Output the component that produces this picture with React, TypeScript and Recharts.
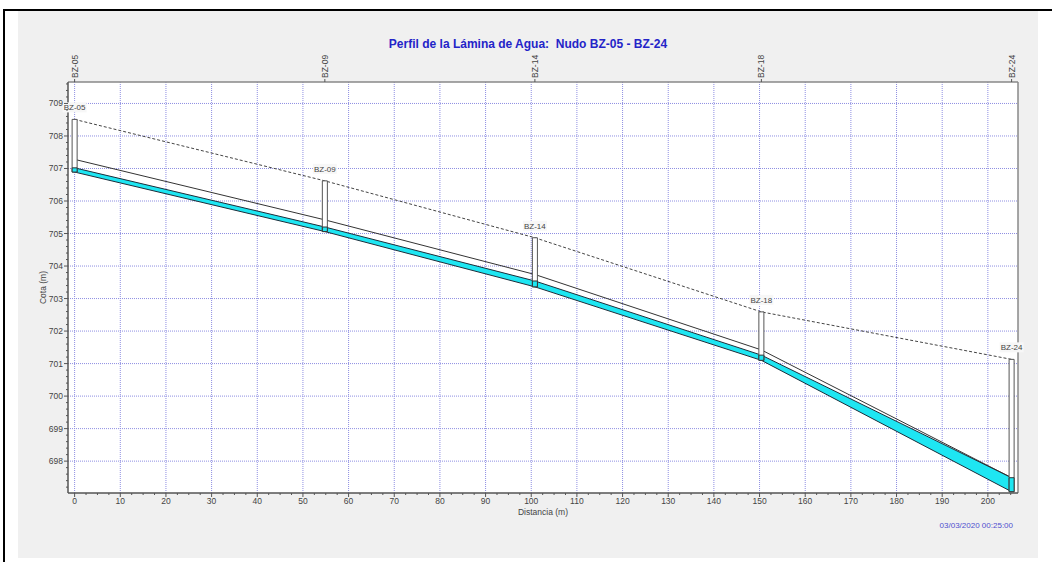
import React from "react";
import {
  ComposedChart,
  Area,
  Line,
  Scatter,
  XAxis,
  YAxis,
  ReferenceLine,
  ReferenceArea,
  Label,
} from "recharts";

// nodos del perfil (distancia acumulada y cotas)
const nodeNames = ["BZ-05", "BZ-09", "BZ-14", "BZ-18", "BZ-24"];
const nodeDist = [0, 54.8, 100.8, 150.4, 205.2];
const groundElev = [708.51, 706.62, 704.87, 702.59, 701.13];
const crownElev = [707.28, 705.42, 703.74, 701.42, 697.49];
const waterElev = [707.02, 705.2, 703.54, 701.26, 697.49];
const invertElev = [706.89, 705.06, 703.36, 701.1, 697.06];

const xMajorTicks = [0, 10, 20, 30, 40, 50, 60, 70, 80, 90, 100, 110, 120, 130, 140, 150, 160, 170, 180, 190, 200];
const yMajorTicks = [698, 699, 700, 701, 702, 703, 704, 705, 706, 707, 708, 709];
const xMinorTicks = Array.from({ length: 83 }, (_, i) => i * 2.5);
const yMinorTicks = Array.from({ length: 63 }, (_, i) => Math.round((697.2 + i * 0.2) * 10) / 10);

const X_DOMAIN: [number, number] = [-1.45, 206.6];
const Y_DOMAIN: [number, number] = [697.02, 709.66];
const MANHOLE_HALF = 0.55;

const FONT = "'Liberation Sans', Arial, sans-serif";
const CYAN = "#1ee6f2";
const GRID = "#8e8ee2";

const profile = nodeDist.map((d, i) => ({
  name: nodeNames[i],
  dist: d,
  ground: groundElev[i],
  crown: crownElev[i],
  water: waterElev[i],
  invert: invertElev[i],
}));

const BottomTick = (props: any) => {
  const { x, y, payload } = props;
  const major = xMajorTicks.includes(payload.value);
  return (
    <g>
      <line x1={x} y1={y} x2={x} y2={y + (major ? 4 : 2)} stroke="#555" />
      {major && (
        <text x={x} y={y + 10.5} textAnchor="middle" fontSize={8.5} fontFamily={FONT} fill="#444">
          {payload.value}
        </text>
      )}
    </g>
  );
};

const LeftTick = (props: any) => {
  const { x, y, payload } = props;
  const major = Number.isInteger(payload.value);
  return (
    <g>
      <line x1={x} y1={y} x2={x - (major ? 4 : 2)} y2={y} stroke="#555" />
      {major && (
        <text x={x - 5} y={y + 3} textAnchor="end" fontSize={8.5} fontFamily={FONT} fill="#444">
          {payload.value}
        </text>
      )}
    </g>
  );
};

const TopTick = (props: any) => {
  const { x, y, payload } = props;
  const idx = nodeDist.indexOf(payload.value);
  return (
    <g>
      <line x1={x} y1={y} x2={x} y2={y - 3} stroke="#555" />
      <text
        transform={`translate(${x + 3},${y - 4}) rotate(-90)`}
        textAnchor="start"
        fontSize={8.5}
        fontFamily={FONT}
        fill="#444"
      >
        {nodeNames[idx]}
      </text>
    </g>
  );
};

const NodeLabel = (props: any) => {
  const { cx, cy, payload } = props;
  return (
    <g>
      <rect x={cx - 12} y={cy - 17} width={24} height={10} fill="#f7f7f7" />
      <text x={cx} y={cy - 9} textAnchor="middle" fontSize={8} fontFamily={FONT} fill="#444">
        {payload.name}
      </text>
    </g>
  );
};

export default function App() {
  return (
    <div style={{ position: "absolute", left: 0, top: 0, width: 1052, height: 562, background: "#fff", overflow: "hidden" }}>
      <div style={{ position: "absolute", left: 3, top: 9, width: 1049, height: 1.5, background: "#000" }} />
      <div style={{ position: "absolute", left: 3, top: 9, width: 2, height: 553, background: "#000" }} />
      <div style={{ position: "absolute", left: 18, top: 10.5, width: 1020, height: 547, background: "#f0f0f0" }}>
        <ComposedChart
          width={1020}
          height={547}
          data={profile}
          margin={{ top: 41, right: 20, bottom: 35, left: 0 }}
        >
          <XAxis
            dataKey="dist"
            type="number"
            domain={X_DOMAIN}
            ticks={xMinorTicks}
            interval={0}
            tickSize={0}
            tickMargin={0}
            tickLine={false}
            tick={<BottomTick />}
            axisLine={{ stroke: "#555", strokeWidth: 1.5 }}
            height={30}
          >
            <Label value="Distancia (m)" position="insideBottom" offset={8.5} fontSize={8.5} fontFamily={FONT} fill="#444" />
          </XAxis>
          <XAxis
            xAxisId="top"
            orientation="top"
            dataKey="dist"
            type="number"
            domain={X_DOMAIN}
            ticks={nodeDist}
            interval={0}
            tickSize={0}
            tickMargin={0}
            tickLine={false}
            tick={<TopTick />}
            axisLine={{ stroke: "#888", strokeWidth: 1.5 }}
            height={30}
          />
          <YAxis
            type="number"
            domain={Y_DOMAIN}
            ticks={yMinorTicks}
            interval={0}
            tickSize={0}
            tickMargin={0}
            tickLine={false}
            tick={<LeftTick />}
            axisLine={{ stroke: "#555", strokeWidth: 1.5 }}
            width={50}
          >
            <Label
              value="Cota (m)"
              angle={-90}
              position="insideLeft"
              offset={25}
              fontSize={8.5}
              fontFamily={FONT}
              fill="#444"
              style={{ textAnchor: "middle" }}
            />
          </YAxis>

          {/* fondo blanco del area de trazado */}
          <ReferenceArea x1={X_DOMAIN[0]} x2={X_DOMAIN[1]} y1={Y_DOMAIN[0]} y2={Y_DOMAIN[1]} fill="#fff" fillOpacity={1} stroke="none" zIndex={-100} />

          {xMajorTicks.map((v) => (
            <ReferenceLine key={`gx-${v}`} x={v} stroke={GRID} strokeDasharray="1 1" zIndex={-50} />
          ))}
          {yMajorTicks.map((v) => (
            <ReferenceLine key={`gy-${v}`} y={v} stroke={GRID} strokeDasharray="1 1" zIndex={-50} />
          ))}
          <ReferenceLine x={X_DOMAIN[1]} stroke="#888" strokeWidth={1.5} ifOverflow="visible" />

          <Area
            type="linear"
            dataKey={(d: any) => [d.invert, d.water]}
            fill={CYAN}
            fillOpacity={1}
            stroke="#1d2d3a"
            strokeWidth={1}
            isAnimationActive={false}
            dot={false}
            activeDot={false}
          />
          <Line type="linear" dataKey="crown" stroke="#333" strokeWidth={1} dot={false} activeDot={false} isAnimationActive={false} />
          <Line
            type="linear"
            dataKey="ground"
            stroke="#444"
            strokeWidth={1}
            strokeDasharray="3 2"
            dot={false}
            activeDot={false}
            isAnimationActive={false}
          />

          {profile.map((n) => (
            <ReferenceArea
              key={`mh-${n.name}`}
              x1={n.dist - MANHOLE_HALF}
              x2={n.dist + MANHOLE_HALF}
              y1={n.invert}
              y2={n.ground}
              fill="#fff"
              fillOpacity={1}
              stroke="#555"
              strokeWidth={1}
              ifOverflow="visible"
              zIndex={700}
            />
          ))}
          {profile.map((n) => (
            <ReferenceArea
              key={`mw-${n.name}`}
              x1={n.dist - MANHOLE_HALF}
              x2={n.dist + MANHOLE_HALF}
              y1={n.invert}
              y2={n.water}
              fill={CYAN}
              fillOpacity={1}
              stroke="#333"
              strokeWidth={1}
              ifOverflow="visible"
              zIndex={710}
            />
          ))}

          <Scatter dataKey="ground" shape={<NodeLabel />} isAnimationActive={false} zIndex={800} />
        </ComposedChart>
      </div>
      <svg width={1052} height={562} style={{ position: "absolute", left: 0, top: 0, pointerEvents: "none" }}>
        <text
          x={528}
          y={48}
          textAnchor="middle"
          fontSize={12}
          fontWeight="bold"
          fontFamily={FONT}
          fill="#2424c8"
          style={{ whiteSpace: "pre" }}
        >
          {"Perfil de la Lámina de Agua:  Nudo BZ-05 - BZ-24"}
        </text>
        <text x={1013} y={528} textAnchor="end" fontSize={8} fontFamily={FONT} fill="#4f4fcf">
          03/03/2020 00:25:00
        </text>
      </svg>
    </div>
  );
}
